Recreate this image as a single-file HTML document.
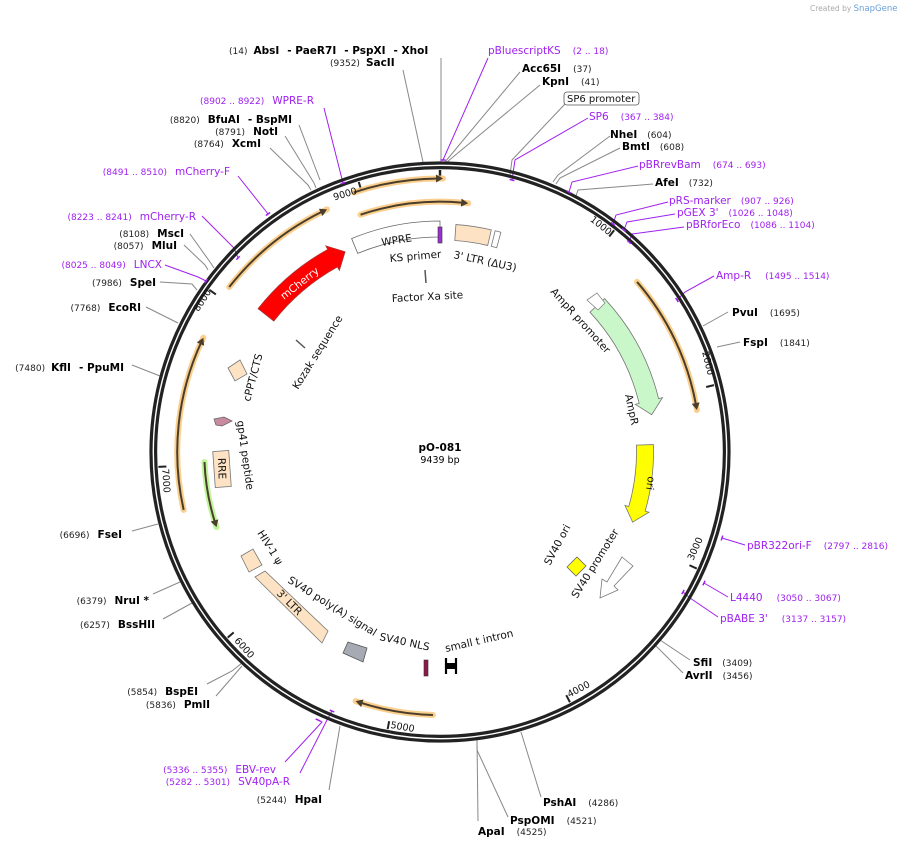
<!DOCTYPE html>
<html><head><meta charset="utf-8">
<style>
html,body{margin:0;padding:0;background:#fff;}
svg{display:block;font-family:"DejaVu Sans","Liberation Sans",sans-serif;}
.b{font-weight:bold;font-size:10.5px;fill:#000;}
.n{font-size:9px;fill:#222;}
.p{font-size:10.5px;fill:#a020f0;}
.pn{font-size:9px;fill:#a020f0;}
.f{font-size:10.5px;fill:#111;}
.t{font-size:9.5px;fill:#111;}
.ln{stroke:#888;stroke-width:1;fill:none;}
.lp{stroke:#a020f0;stroke-width:1;fill:none;}
</style></head>
<body>
<svg id="s" width="908" height="849" viewBox="0 0 908 849" xmlns="http://www.w3.org/2000/svg">
<text x="810" y="11" style="font-size:7.5px;fill:#aaa">Created by <tspan style="fill:#6aa0d8;font-size:8.5px">SnapGene</tspan></text>

<g id="lines">
<path class="ln" d="M441 58 L441 162"/>
<path class="ln" d="M403 70 L423 162"/>
<path class="lp" d="M488 58 L443 160"/>
<path class="ln" d="M520 72 L445 162"/>
<path class="ln" d="M540 85 L447 162"/>
<path class="ln" d="M565 104 L512 160 L510 175"/>
<path class="lp" d="M588 118 L515 160 L512 180"/>
<path class="ln" d="M610 136 L558 175 L553 182"/>
<path class="ln" d="M620 148 L560 178 L556 184"/>
<path class="lp" d="M638 166 L572 182 L569 192"/>
<path class="ln" d="M653 184 L578 190 L576 196"/>
<path class="lp" d="M668 202 L616 215 L613 224"/>
<path class="lp" d="M675 214 L627 222 L624 230"/>
<path class="lp" d="M684 227 L632 234 L629 242"/>
<path class="lp" d="M714 276 L685 292 L677 300"/>
<path class="ln" d="M728 312 L703 326"/>
<path class="ln" d="M740 342 L717 347"/>
<path class="lp" d="M745 545 L722 538"/>
<path class="lp" d="M728 597 L704 583"/>
<path class="lp" d="M718 617 L690 598 L683 592"/>
<path class="ln" d="M690 660 L660 640"/>
<path class="ln" d="M683 673 L655 645"/>
<path class="ln" d="M541 797 L521 732"/>
<path class="ln" d="M508 817 L477 750 L477 740"/>
<path class="ln" d="M478 821 L477 740"/>
<path class="ln" d="M329 790 L340 726"/>
<path class="lp" d="M285 762 L322 722 L318 720"/>
<path class="lp" d="M300 773 L327 720 L332 711"/>
<path class="ln" d="M207 684 L232 671 L242 663"/>
<path class="ln" d="M216 696 L242 666"/>
<path class="ln" d="M163 619 L192 603"/>
<path class="ln" d="M153 594 L180 582"/>
<path class="ln" d="M132 531 L158 524"/>
<path class="ln" d="M132 365 L160 376"/>
<path class="ln" d="M146 307 L178 323"/>
<path class="ln" d="M160 282 L192 284 L197 290"/>
<path class="lp" d="M165 265 L198 277 L206 281"/>
<path class="ln" d="M184 245 L205 265 L208 270"/>
<path class="ln" d="M190 234 L210 262 L214 268"/>
<path class="lp" d="M202 216 L234 248 L238 258"/>
<path class="lp" d="M238 176 L265 210 L268 214"/>
<path class="ln" d="M270 148 L308 185 L311 190"/>
<path class="ln" d="M285 136 L314 183 L316 188"/>
<path class="ln" d="M299 125 L320 180"/>
<path class="lp" d="M324 108 L343 183"/>
</g>

<!-- ring -->
<circle cx="440" cy="452" r="289" fill="none" stroke="#222" stroke-width="3.2"/>
<circle cx="440" cy="452" r="284.4" fill="none" stroke="#222" stroke-width="3.2"/>
<g id="dyn"></g>

<!-- outer labels -->
<text x="229" y="54"><tspan class="n">(14)</tspan><tspan class="b" dx="6">AbsI</tspan><tspan class="b" dx="8">- PaeR7I</tspan><tspan class="b" dx="8">- PspXI</tspan><tspan class="b" dx="8">- XhoI</tspan></text>
<text x="330" y="66"><tspan class="n">(9352)</tspan><tspan class="b" dx="6">SacII</tspan></text>
<text x="488" y="54"><tspan class="p">pBluescriptKS</tspan><tspan class="pn" dx="12">(2 .. 18)</tspan></text>
<text x="522" y="72"><tspan class="b">Acc65I</tspan><tspan class="n" dx="12">(37)</tspan></text>
<text x="542" y="85"><tspan class="b">KpnI</tspan><tspan class="n" dx="12">(41)</tspan></text>
<rect x="564" y="92" width="75" height="13" rx="3" fill="#fff" stroke="#555" stroke-width="0.8"/>
<text x="567" y="102" class="f" style="font-size:10px">SP6 promoter</text>
<text x="589" y="120"><tspan class="p">SP6</tspan><tspan class="pn" dx="12">(367 .. 384)</tspan></text>
<text x="610" y="138"><tspan class="b">NheI</tspan><tspan class="n" dx="10">(604)</tspan></text>
<text x="622" y="150"><tspan class="b">BmtI</tspan><tspan class="n" dx="10">(608)</tspan></text>
<text x="639" y="168"><tspan class="p">pBRrevBam</tspan><tspan class="pn" dx="12">(674 .. 693)</tspan></text>
<text x="655" y="186"><tspan class="b">AfeI</tspan><tspan class="n" dx="10">(732)</tspan></text>
<text x="669" y="204"><tspan class="p">pRS-marker</tspan><tspan class="pn" dx="10">(907 .. 926)</tspan></text>
<text x="677" y="216"><tspan class="p">pGEX 3'</tspan><tspan class="pn" dx="10">(1026 .. 1048)</tspan></text>
<text x="686" y="228"><tspan class="p">pBRforEco</tspan><tspan class="pn" dx="10">(1086 .. 1104)</tspan></text>
<text x="716" y="279"><tspan class="p">Amp-R</tspan><tspan class="pn" dx="14">(1495 .. 1514)</tspan></text>
<text x="732" y="316"><tspan class="b">PvuI</tspan><tspan class="n" dx="12">(1695)</tspan></text>
<text x="743" y="346"><tspan class="b">FspI</tspan><tspan class="n" dx="12">(1841)</tspan></text>
<text x="747" y="549"><tspan class="p">pBR322ori-F</tspan><tspan class="pn" dx="12">(2797 .. 2816)</tspan></text>
<text x="730" y="601"><tspan class="p">L4440</tspan><tspan class="pn" dx="14">(3050 .. 3067)</tspan></text>
<text x="720" y="622"><tspan class="p">pBABE 3'</tspan><tspan class="pn" dx="14">(3137 .. 3157)</tspan></text>
<text x="693" y="666"><tspan class="b">SfiI</tspan><tspan class="n" dx="10">(3409)</tspan></text>
<text x="685" y="679"><tspan class="b">AvrII</tspan><tspan class="n" dx="10">(3456)</tspan></text>
<text x="543" y="806"><tspan class="b">PshAI</tspan><tspan class="n" dx="12">(4286)</tspan></text>
<text x="510" y="824"><tspan class="b">PspOMI</tspan><tspan class="n" dx="12">(4521)</tspan></text>
<text x="478" y="835"><tspan class="b">ApaI</tspan><tspan class="n" dx="12">(4525)</tspan></text>

<text x="322" y="803" text-anchor="end"><tspan class="n">(5244)</tspan><tspan class="b" dx="8">HpaI</tspan></text>
<text x="276" y="773" text-anchor="end"><tspan class="pn">(5336 .. 5355)</tspan><tspan class="p" dx="8">EBV-rev</tspan></text>
<text x="290" y="785" text-anchor="end"><tspan class="pn">(5282 .. 5301)</tspan><tspan class="p" dx="8">SV40pA-R</tspan></text>
<text x="198" y="695" text-anchor="end"><tspan class="n">(5854)</tspan><tspan class="b" dx="8">BspEI</tspan></text>
<text x="210" y="708" text-anchor="end"><tspan class="n">(5836)</tspan><tspan class="b" dx="8">PmlI</tspan></text>
<text x="155" y="628" text-anchor="end"><tspan class="n">(6257)</tspan><tspan class="b" dx="8">BssHII</tspan></text>
<text x="149" y="604" text-anchor="end"><tspan class="n">(6379)</tspan><tspan class="b" dx="8">NruI *</tspan></text>
<text x="122" y="538" text-anchor="end"><tspan class="n">(6696)</tspan><tspan class="b" dx="8">FseI</tspan></text>
<text x="124" y="371" text-anchor="end"><tspan class="n">(7480)</tspan><tspan class="b" dx="6">KflI</tspan><tspan class="b" dx="8">- PpuMI</tspan></text>
<text x="141" y="311" text-anchor="end"><tspan class="n">(7768)</tspan><tspan class="b" dx="8">EcoRI</tspan></text>
<text x="156" y="286" text-anchor="end"><tspan class="n">(7986)</tspan><tspan class="b" dx="8">SpeI</tspan></text>
<text x="162" y="268" text-anchor="end"><tspan class="pn">(8025 .. 8049)</tspan><tspan class="p" dx="8">LNCX</tspan></text>
<text x="177" y="249" text-anchor="end"><tspan class="n">(8057)</tspan><tspan class="b" dx="8">MluI</tspan></text>
<text x="184" y="237" text-anchor="end"><tspan class="n">(8108)</tspan><tspan class="b" dx="8">MscI</tspan></text>
<text x="196" y="220" text-anchor="end"><tspan class="pn">(8223 .. 8241)</tspan><tspan class="p" dx="8">mCherry-R</tspan></text>
<text x="230" y="175" text-anchor="end"><tspan class="pn">(8491 .. 8510)</tspan><tspan class="p" dx="8">mCherry-F</tspan></text>
<text x="261" y="147" text-anchor="end"><tspan class="n">(8764)</tspan><tspan class="b" dx="8">XcmI</tspan></text>
<text x="278" y="135" text-anchor="end"><tspan class="n">(8791)</tspan><tspan class="b" dx="8">NotI</tspan></text>
<text x="292" y="123" text-anchor="end"><tspan class="n">(8820)</tspan><tspan class="b" dx="8">BfuAI</tspan><tspan class="b" dx="8">- BspMI</tspan></text>
<text x="314" y="104" text-anchor="end"><tspan class="pn">(8902 .. 8922)</tspan><tspan class="p" dx="8">WPRE-R</tspan></text>

<!-- center -->
<text x="440" y="451" text-anchor="middle" style="font-weight:bold;font-size:10.5px">pO-081</text>
<text x="440" y="463" text-anchor="middle" style="font-size:9.5px">9439 bp</text>

<!-- static inner shapes -->
<polygon points="255,577 265,571 328,631 322,643" fill="#fde3c4" stroke="#777" stroke-width="0.8"/>
<polygon points="241,556 253,549 262,565 249,572" fill="#fde3c4" stroke="#777" stroke-width="0.8"/>
<polygon points="343,653 348,642 367,648 363,662" fill="#a6abb3" stroke="#555" stroke-width="0.8"/>
<rect x="424" y="660" width="4" height="16" fill="#8b1a4a" stroke="#333" stroke-width="0.6"/>
<path d="M446 658 V674 M456 658 V674 M446 666 H456" stroke="#000" stroke-width="2.2" fill="none"/>
<rect x="446" y="663" width="10" height="6" fill="#000"/>
<polygon points="228,368 240,360 247,374 235,381" fill="#fde3c4" stroke="#777" stroke-width="0.8"/>
<polygon points="214,419 224,417 232,421 222,426 216,425" fill="#c88aa0" stroke="#666" stroke-width="0.8"/>
<rect x="214" y="451" width="16" height="36" fill="#fde3c4" stroke="#777" stroke-width="0.8" transform="rotate(-4 222 469)"/>
<path d="M296 340 L305 348" stroke="#555" stroke-width="1.5"/>
<path d="M425 270 L426 283" stroke="#555" stroke-width="1.5"/>
<polygon points="567,567 577,557 586,566 576,576" fill="#ffff00" stroke="#666" stroke-width="0.8"/>
<polygon points="622,557 633,566 614,586 618,590 600,598 602,579 607,582" fill="#fff" stroke="#777" stroke-width="0.8"/>
<polygon points="587,300 597,293 605,303 598,310" fill="#fff" stroke="#888" stroke-width="0.8"/>

<!-- inner labels -->
<text x="382" y="246" class="f" transform="rotate(-9 382 246)">WPRE</text>
<text x="390" y="262" class="f" transform="rotate(-5 390 262)">KS primer</text>
<text x="453" y="258" class="f" transform="rotate(12 453 258)">3' LTR (ΔU3)</text>
<text x="392" y="302" class="f" transform="rotate(-3 392 302)">Factor Xa site</text>
<text x="284" y="300" class="f" style="fill:#fff" transform="rotate(-38 284 300)">mCherry</text>
<text x="298" y="390" class="f" transform="rotate(-58 298 390)">Kozak sequence</text>
<text x="250" y="402" class="f" transform="rotate(-75 250 402)">cPPT/CTS</text>
<text x="237" y="421" class="f" transform="rotate(82 237 421)">gp41 peptide</text>
<text x="218" y="458" class="f" transform="rotate(88 218 458)">RRE</text>
<text x="257" y="533" class="f" transform="rotate(58 257 533)">HIV-1 ψ</text>
<text x="276" y="594" class="f" transform="rotate(45 276 594)">3' LTR</text>
<text x="287" y="582" class="f" transform="rotate(32 287 582)">SV40 poly(A) signal</text>
<text x="379" y="640" class="f" transform="rotate(12 379 640)">SV40 NLS</text>
<text x="446" y="652" class="f" transform="rotate(-13 446 652)">small t intron</text>
<text x="550" y="292" class="f" transform="rotate(48 550 292)">AmpR promoter</text>
<text x="625" y="395" class="f" transform="rotate(78 625 395)">AmpR</text>
<text x="648" y="476" class="f" transform="rotate(98 648 476)">ori</text>
<text x="550" y="566" class="f" transform="rotate(-62 550 566)">SV40 ori</text>
<text x="577" y="599" class="f" transform="rotate(-58 577 599)">SV40 promoter</text>

<!-- tick labels -->
<text class="t" x="346" y="197" transform="rotate(-17 346 197)" text-anchor="middle">9000</text>
<text class="t" x="599" y="228" transform="rotate(38 599 228)" text-anchor="middle">1000</text>
<text class="t" x="705" y="364" transform="rotate(76 705 364)" text-anchor="middle">2000</text>
<text class="t" x="698" y="550" transform="rotate(-66 698 550)" text-anchor="middle">3000</text>
<text class="t" x="580" y="692" transform="rotate(-28 580 692)" text-anchor="middle">4000</text>
<text class="t" x="402" y="730" transform="rotate(10 402 730)" text-anchor="middle">5000</text>
<text class="t" x="242" y="650" transform="rotate(48 242 650)" text-anchor="middle">6000</text>
<text class="t" x="163" y="481" transform="rotate(86 163 481)" text-anchor="middle">7000</text>
<text class="t" x="205" y="302" transform="rotate(-57 205 302)" text-anchor="middle">8000</text>
</svg>
<script>
(function(){
var cx=440,cy=452,NS="http://www.w3.org/2000/svg",g=document.getElementById('dyn');
function P(r,a){a=a*Math.PI/180;return [cx+r*Math.sin(a),cy-r*Math.cos(a)];}
function ang(x,y){var a=Math.atan2(x-cx,cy-y)*180/Math.PI;return a;}
function rad(x,y){return Math.hypot(x-cx,y-cy);}
function el(n,at){var e=document.createElementNS(NS,n);for(var k in at)e.setAttribute(k,at[k]);g.appendChild(e);return e;}
function arc(r,a1,a2){var p1=P(r,a1),p2=P(r,a2),sw=a2>a1?1:0,lg=Math.abs(a2-a1)>180?1:0;
 return "M"+p1[0]+" "+p1[1]+" A"+r+" "+r+" 0 "+lg+" "+sw+" "+p2[0]+" "+p2[1];}
function fix(a){return a>200?a-360:a;}
function tarrow(x1,y1,x2,y2,glow){var r=(rad(x1,y1)+rad(x2,y2))/2,a1=fix(ang(x1,y1)),a2=fix(ang(x2,y2));
 var d=a2>a1?1:-1,h=7/r*180/Math.PI;
 el('path',{d:arc(r,a1,a2),stroke:glow,'stroke-width':6,fill:'none','stroke-linecap':'round',opacity:0.85});
 el('path',{d:arc(r,a1,a2-d*h*0.6),stroke:'#4a3d2a','stroke-width':2,fill:'none'});
 var t=P(r,a2),b1=P(r+4,a2-d*h),b2=P(r-4,a2-d*h);
 el('polygon',{points:t+" "+b1+" "+b2,fill:'#4a3d2a'});}
function fat(r,w,a1,a2,fill,stroke,head){var d=a2>a1?1:-1,h=(head||12)/r*180/Math.PI,ae=head===0?a2:a2-d*h;
 var o1=P(r+w/2,a1),o2=P(r+w/2,ae),i1=P(r-w/2,a1),i2=P(r-w/2,ae);
 var s="M"+o1+" A"+(r+w/2)+" "+(r+w/2)+" 0 0 "+(d>0?1:0)+" "+o2;
 if(head!==0){var ho=P(r+w/2+4,ae),hi=P(r-w/2-4,ae),t=P(r,a2);s+=" L"+ho+" L"+t+" L"+hi+" L"+i2;}
 else s+=" L"+i2;
 s+=" A"+(r-w/2)+" "+(r-w/2)+" 0 0 "+(d>0?0:1)+" "+i1+" Z";
 el('path',{d:s,fill:fill,stroke:stroke,'stroke-width':0.8});}
for(var i=1;i<=9;i++){var a=i*1000/9439*360,p1=P(282,a),p2=P(274,a);el('line',{x1:p1[0],y1:p1[1],x2:p2[0],y2:p2[1],stroke:'#222','stroke-width':2});}
var p1=P(282,0),p2=P(274,0);el('line',{x1:p1[0],y1:p1[1],x2:p2[0],y2:p2[1],stroke:'#222','stroke-width':2.5});
// small primer marks at line ends
[[343,183],[268,214],[238,258],[206,281],[443,160],[512,180],[569,192],[613,224],[624,230],[629,242],[677,300],[722,538],[704,583],[683,592],[318,720],[332,711]].forEach(function(m){
 var a=fix(ang(m[0],m[1]));el('path',{d:arc(rad(m[0],m[1]),a-0.5,a+0.5),stroke:'#a020f0','stroke-width':1.5,fill:'none'});});
tarrow(353,190,443,181,'#f9c77a');
tarrow(360,213,468,205,'#f9c77a');
tarrow(233,290,325,205,'#f9c77a');
tarrow(183,510,204,338,'#f9c77a');
tarrow(637,282,697,410,'#f9c77a');
tarrow(433,713,355,703,'#f9c77a');
tarrow(204,462,217,527,'#b5f28a');
fat(rad(262,320),20,fix(ang(270,318)),fix(ang(348,258)),'#ff0000','#aa3333',14);
fat(223,16,-22.5,0,'#fff','#666',0);
el('rect',{x:438,y:227,width:4,height:16,fill:'#9b30d0',stroke:'#333','stroke-width':0.6});
fat(220,16,4,13,'#fde3c4','#777',0);
fat(220,16,14,15.5,'#fff','#777',0);
fat(215,20,47,80,'#c9f7c9','#777',14);
fat(205,17,88,110,'#ffff00','#777',14);
})();
</script>
</body></html>
